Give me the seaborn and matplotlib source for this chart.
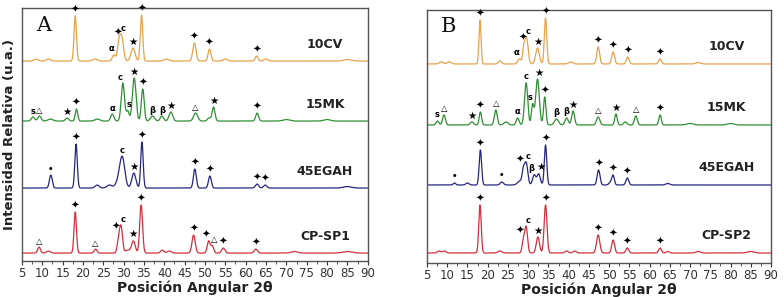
import matplotlib
matplotlib.use('Agg')
import numpy as np
import pandas as pd
import matplotlib.pyplot as plt
import seaborn as sns
from matplotlib.ticker import MultipleLocator

# Peaks: (2theta, height above baseline, width, marker)
# heights in the same units as the stacking offsets
A_10CV = [(18.1, 45, 0.30, '✦'), (27.6, 6, 0.4, 'α'), (28.8, 15, 0.35, '✦'),
          (29.5, 24, 0.45, 'c'), (32.3, 13, 0.5, '★'), (34.4, 46, 0.30, '✦'),
          (47.4, 18, 0.4, '✦'), (51.1, 12, 0.35, '✦'), (62.7, 5, 0.35, '✦'),
          (8.5, 2, 0.5, ''), (11.5, 2, 0.5, ''), (23.0, 2, 0.6, ''),
          (40.5, 2, 0.6, ''), (55.0, 2, 0.5, ''), (65.0, 2, 0.5, ''),
          (85.0, 1.5, 1.0, '')]
A_15MK = [(7.7, 4, 0.4, 's'), (9.3, 5, 0.4, '△'), (16.1, 3, 0.4, '★'),
          (18.4, 12, 0.3, '✦'), (23.5, 2, 0.6, ''), (27.2, 7, 0.4, 'α'),
          (29.8, 38, 0.4, 'c'), (31.0, 10, 0.35, 's'), (32.6, 43, 0.45, '★'),
          (34.7, 32, 0.35, '✦'), (37.1, 5, 0.5, 'β'), (39.4, 5, 0.4, 'β'),
          (41.6, 9, 0.45, '★'), (47.7, 8, 0.5, '△'), (51.0, 3, 0.4, ''),
          (52.1, 14, 0.35, '★'), (62.8, 8, 0.35, '✦'), (12.0, 2, 0.6, ''),
          (70.0, 1.5, 0.8, ''), (80.0, 1.5, 0.8, '')]
A_45EGAH = [(12.1, 13, 0.35, '•'), (18.3, 44, 0.3, '✦'), (23.5, 3, 0.5, ''),
            (26.5, 3, 0.6, ''), (29.1, 10, 0.8, ''), (29.7, 24, 0.6, 'c'),
            (32.5, 15, 0.5, '★'), (34.5, 46, 0.3, '✦'), (47.5, 19, 0.35, '✦'),
            (51.2, 12, 0.35, '✦'), (62.8, 4, 0.4, '✦'), (64.8, 3, 0.4, '✦'),
            (85.0, 1.5, 1.0, '')]
A_CPSP1 = [(9.2, 6, 0.35, '△'), (11.5, 2, 0.5, ''), (18.1, 41, 0.3, '✦'),
           (23.1, 4, 0.35, '△'), (28.8, 14, 0.35, '✦'), (29.4, 24, 0.35, 'c'),
           (31.0, 3, 0.6, ''), (32.4, 12, 0.45, '★'), (34.3, 48, 0.35, '✦'),
           (39.5, 3, 0.4, ''), (41.2, 2, 0.5, ''), (47.2, 18, 0.4, '✦'),
           (50.9, 12, 0.35, '✦'), (51.8, 7, 0.35, '△'), (54.5, 5, 0.4, '✦'),
           (62.5, 4, 0.4, '✦'), (72.0, 1.5, 0.8, ''), (85.0, 1.5, 1.2, '')]

B_10CV = [(18.1, 44, 0.25, '✦'), (23.0, 3, 0.4, ''), (27.8, 5, 0.4, 'α'),
          (28.9, 14, 0.3, '✦'), (29.6, 26, 0.4, 'c'), (32.3, 16, 0.45, '★'),
          (34.3, 46, 0.3, '✦'), (47.3, 17, 0.35, '✦'), (51.0, 12, 0.35, '✦'),
          (54.6, 7, 0.35, '✦'), (62.6, 5, 0.35, '✦'), (8.5, 2, 0.5, ''),
          (10.5, 2, 0.5, ''), (40.5, 2, 0.5, ''), (72.0, 1.5, 0.6, '')]
B_15MK = [(7.6, 4, 0.35, 's'), (9.2, 10, 0.35, '△'), (16.1, 3, 0.4, '★'),
          (18.2, 13, 0.3, '✦'), (22.0, 15, 0.35, '△'), (24.5, 3, 0.5, ''),
          (27.4, 7, 0.35, 'α'), (29.5, 42, 0.4, 'c'), (31.1, 20, 0.3, 's'),
          (32.3, 46, 0.45, '★'), (34.1, 28, 0.3, '✦'), (37.0, 6, 0.5, 'β'),
          (39.5, 7, 0.4, 'β'), (41.1, 14, 0.35, '★'), (47.3, 8, 0.4, '△'),
          (51.7, 11, 0.3, '★'), (54.0, 3, 0.4, ''), (56.6, 9, 0.35, '△'),
          (62.6, 10, 0.3, '✦'), (70.0, 1.5, 0.8, ''), (80.0, 1.5, 0.8, '')]
B_45EGAH = [(11.8, 2, 0.3, '•'), (15.0, 2, 0.4, ''), (18.2, 35, 0.3, '✦'),
            (23.5, 3, 0.4, '•'), (28.0, 4, 0.6, ''), (28.8, 12, 0.3, '✦'),
            (29.5, 22, 0.4, 'c'), (31.5, 10, 0.4, 'β'), (32.6, 11, 0.4, '★'),
            (34.3, 40, 0.3, '✦'), (47.4, 15, 0.35, '✦'), (50.4, 3, 0.4, ''),
            (51.0, 9, 0.3, '✦'), (54.5, 7, 0.35, '✦'), (64.5, 1.5, 0.5, '')]
B_CPSP2 = [(8.0, 2, 0.4, ''), (9.3, 2, 0.4, ''), (18.1, 48, 0.3, '✦'),
           (23.0, 2, 0.5, ''), (28.8, 12, 0.3, '✦'), (29.5, 26, 0.35, 'c'),
           (32.4, 16, 0.4, '★'), (34.3, 48, 0.35, '✦'), (39.5, 2, 0.4, ''),
           (41.5, 2, 0.4, ''), (47.3, 18, 0.4, '✦'), (51.0, 13, 0.35, '✦'),
           (54.5, 5, 0.35, '✦'), (62.6, 5, 0.35, '✦'), (64.5, 1.5, 0.4, ''),
           (72.0, 1.5, 0.6, ''), (85.0, 1.5, 0.8, '')]

names_a = ['10CV', '15MK', '45EGAH', 'CP-SP1']
names_b = ['10CV', '15MK', '45EGAH', 'CP-SP2']
offsets_a = [200, 140, 73, 8]
offsets_b = [199, 138, 78, 10]
colors = ['#E9A24A', '#2F8F33', '#262680', '#D42F3F']

sns.set_theme(style='white')
plt.rcParams['font.family'] = ['DejaVu Sans']

fig = plt.figure(figsize=(7.84, 2.97), dpi=100)
ax_a = fig.add_axes([0.028, 0.121, 0.441, 0.852])
ax_b = fig.add_axes([0.5446, 0.1145, 0.4388, 0.852])

grid = np.linspace(5, 90, 3401)


def profile(peaks):
    y = np.zeros_like(grid)
    for pos, h, w, _ in peaks:
        y += h * np.exp(-0.5 * ((grid - pos) / w) ** 2)
    return y


def draw_panel(ax, series, names, offsets, letter, label_x):
    for peaks, name, off, col in zip(series, names, offsets, colors):
        curve = profile(peaks)
        df = pd.DataFrame({'two_theta': grid, 'inten': curve + off})
        sns.lineplot(data=df, x='two_theta', y='inten', ax=ax, color=col,
                     linewidth=0.9)
        marked = [p for p in peaks if p[3]]
        for pos, h, w, mk in marked:
            top = off + curve[np.searchsorted(grid, pos)]
            # push markers of close neighbours apart a little
            dx = 0.0
            for q in marked:
                if q[0] != pos and abs(q[0] - pos) < 1.3:
                    dx += -0.7 if q[0] > pos else 0.45
            fs = 7.5 if mk in ('✦', '★') else 6
            ax.text(pos + dx, top + 1.5, mk, ha='center', va='bottom',
                    fontsize=fs, color='black', fontweight='bold')
        ax.text(label_x, off + 17, name, ha='center', va='center', fontsize=9,
                fontweight='bold', color='#222222')
    ax.text(10.3, 236, letter, ha='center', va='center', fontsize=15,
            family='DejaVu Serif', color='#111111')
    ax.set_xlim(5, 90)
    ax.set_ylim(0, 253)
    ax.set_yticks([])
    ax.xaxis.set_major_locator(MultipleLocator(5))
    ax.xaxis.set_minor_locator(MultipleLocator(2.5))
    ax.tick_params(axis='x', which='major', direction='out', length=3,
                   width=0.8, labelsize=8.5, pad=1.5, colors='#333333',
                   bottom=True)
    ax.tick_params(axis='x', which='minor', direction='out', length=2,
                   width=0.6, bottom=True, colors='#333333')
    for s in ax.spines.values():
        s.set_color('#555555')
        s.set_linewidth(1.0)
    ax.set_xlabel('Posición Angular 2θ', fontsize=10, fontweight='bold',
                  labelpad=0, color='#222222')
    ax.set_ylabel('')


draw_panel(ax_a, [A_10CV, A_15MK, A_45EGAH, A_CPSP1], names_a, offsets_a,
           'A', 79.5)
draw_panel(ax_b, [B_10CV, B_15MK, B_45EGAH, B_CPSP2], names_b, offsets_b,
           'B', 79.0)
ax_a.set_ylabel('Intensidad Relativa (u.a.)', fontsize=9.5, fontweight='bold',
                labelpad=4, color='#222222')

fig.savefig('out.png', dpi=100)
